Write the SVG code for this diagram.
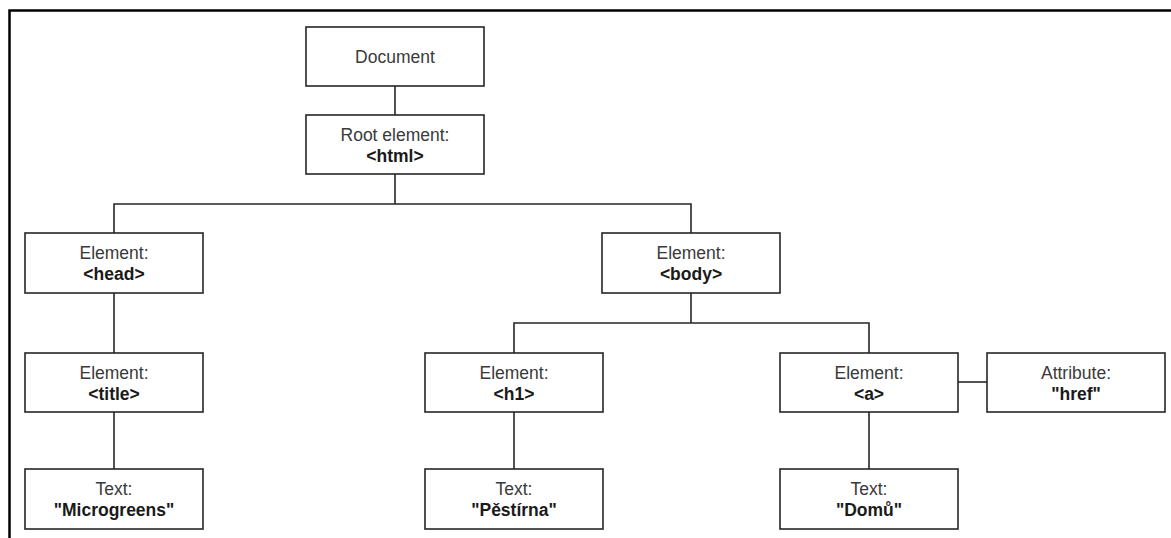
<svg xmlns="http://www.w3.org/2000/svg" width="1171" height="538" viewBox="0 0 1171 538">
<style>
.box{fill:#fff;stroke:#262626;stroke-width:1.6}
.ln{fill:none;stroke:#262626;stroke-width:1.6}
.t1{font-family:"Liberation Sans",Arial,sans-serif;font-size:17.5px;fill:#3a3a3a;text-anchor:middle}
.t2{font-family:"Liberation Sans",Arial,sans-serif;font-size:17.5px;font-weight:bold;fill:#1a1a1a;text-anchor:middle}
</style>
<rect x="0" y="0" width="1171" height="538" fill="#fff"/>
<path d="M9.5 538 V10.5 H1171" fill="none" stroke="#000" stroke-width="2.5"/>
<g id="connectors">
<path class="ln" d="M395 86 V115"/>
<path class="ln" d="M395 174 V204 M114 233 V204 H691 V233"/>
<path class="ln" d="M114 293 V353"/>
<path class="ln" d="M114 412 V469"/>
<path class="ln" d="M691 293 V323 M514 353 V323 H869 V353"/>
<path class="ln" d="M514 412 V469"/>
<path class="ln" d="M869 412 V469"/>
<path class="ln" d="M958 382 H987"/>
</g>
<g id="document"><rect class="box" x="306" y="27" width="178" height="59"/><text class="t1" x="395" y="62.5">Document</text></g>
<g id="html"><rect class="box" x="306" y="115" width="178" height="59"/><text class="t1" x="395" y="140.5">Root element:</text><text class="t2" x="395" y="162">&lt;html&gt;</text></g>
<g id="head"><rect class="box" x="25" y="233" width="178" height="60"/><text class="t1" x="114" y="258.5">Element:</text><text class="t2" x="114" y="280">&lt;head&gt;</text></g>
<g id="body"><rect class="box" x="602" y="233" width="178" height="60"/><text class="t1" x="691" y="258.5">Element:</text><text class="t2" x="691" y="280">&lt;body&gt;</text></g>
<g id="title"><rect class="box" x="25" y="353" width="178" height="59"/><text class="t1" x="114" y="378.5">Element:</text><text class="t2" x="114" y="400">&lt;title&gt;</text></g>
<g id="h1"><rect class="box" x="425" y="353" width="178" height="59"/><text class="t1" x="514" y="378.5">Element:</text><text class="t2" x="514" y="400">&lt;h1&gt;</text></g>
<g id="a"><rect class="box" x="780" y="353" width="178" height="59"/><text class="t1" x="869" y="378.5">Element:</text><text class="t2" x="869" y="400">&lt;a&gt;</text></g>
<g id="href"><rect class="box" x="987" y="353" width="178" height="59"/><text class="t1" x="1076" y="378.5">Attribute:</text><text class="t2" x="1076" y="400">"href"</text></g>
<g id="microgreens"><rect class="box" x="25" y="469" width="178" height="60"/><text class="t1" x="114" y="494.5">Text:</text><text class="t2" x="114" y="516">"Microgreens"</text></g>
<g id="pestirna"><rect class="box" x="425" y="469" width="178" height="60"/><text class="t1" x="514" y="494.5">Text:</text><text class="t2" x="514" y="516">"Pěstírna"</text></g>
<g id="domu"><rect class="box" x="780" y="469" width="178" height="60"/><text class="t1" x="869" y="494.5">Text:</text><text class="t2" x="869" y="516">"Domů"</text></g>
</svg>
